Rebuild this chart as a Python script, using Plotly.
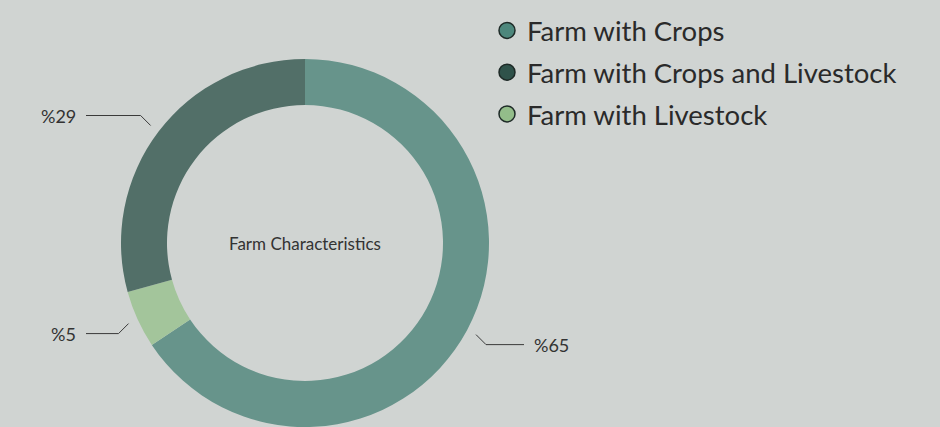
import math
import plotly.graph_objects as go

# ---- data ----
categories = ["Farm with Crops", "Farm with Livestock", "Farm with Crops and Livestock"]
values = [65, 5, 29]
slice_colors = ["#67948b", "#a3c59b", "#526f68"]
legend_order = ["Farm with Crops", "Farm with Crops and Livestock", "Farm with Livestock"]
legend_colors = {"Farm with Crops": "#4d877c", "Farm with Crops and Livestock": "#2f524a",
                 "Farm with Livestock": "#93bd8a"}
center_title = "Farm Characteristics"

W, H = 940, 427
BG = "#d0d4d2"
FONT = "Lato"

# pie geometry in pixels (from top-left)
cx, cy, R = 305, 243, 184

fig = go.Figure()

fig.add_trace(go.Pie(
    labels=categories, values=values, sort=False, direction="clockwise",
    hole=0.75, textinfo="none", showlegend=False, hoverinfo="label+value",
    marker=dict(colors=slice_colors, line=dict(width=0)),
    domain=dict(x=[(cx - R) / W, (cx + R) / W], y=[(H - cy - R) / H, (H - cy + R) / H]),
))

# leader lines & labels computed from the data
total = sum(values)
cum = 0
annotations = []
for cat, v in zip(categories, values):
    mid = (cum + v / 2) / total
    cum += v
    th = 2 * math.pi * mid
    dx, dy = math.sin(th), -math.cos(th)
    sx = 1 if dx >= 0 else -1
    sy = 1 if dy >= 0 else -1
    p1 = (cx + 194 * dx, cy + 194 * dy)
    p2 = (p1[0] + 10 * sx, p1[1] + 10 * sy)
    p3 = (cx + sx * 219, p2[1])
    fig.add_trace(go.Scatter(
        x=[p1[0], p2[0], p3[0]], y=[p1[1], p2[1], p3[1]], mode="lines",
        line=dict(color="#3a3a3a", width=1), showlegend=False, hoverinfo="skip",
    ))
    annotations.append(dict(
        x=p3[0] + sx * 8, y=p3[1], xref="x", yref="y", showarrow=False,
        text=f"%{v}", xanchor="left" if sx > 0 else "right", yanchor="middle",
        font=dict(family=FONT, size=18, color="#333333"),
    ))

annotations.append(dict(
    x=cx, y=cy, xref="x", yref="y", showarrow=False, text=center_title,
    font=dict(family=FONT, size=17, color="#333333"), xanchor="center", yanchor="middle",
))

# legend entries
for i, name in enumerate(legend_order):
    fig.add_trace(go.Scatter(
        x=[None], y=[None], mode="markers", name=name, legendgroup=f"g{i}",
        marker=dict(symbol="circle", size=16, color=legend_colors[name],
                    line=dict(color="#1e2a27", width=1.5)),
    ))

fig.update_layout(
    width=W, height=H,
    margin=dict(l=0, r=0, t=0, b=0),
    paper_bgcolor=BG, plot_bgcolor=BG,
    xaxis=dict(range=[0, W], visible=False, fixedrange=True),
    yaxis=dict(range=[H, 0], visible=False, fixedrange=True),
    showlegend=True,
    legend=dict(x=487 / W, y=1 - 6 / H, xanchor="left", yanchor="top",
                bgcolor="rgba(0,0,0,0)", traceorder="grouped", tracegroupgap=3,
                font=dict(family=FONT, size=27.5, color="#2a2a2a"), itemclick=False),
    annotations=annotations,
)

fig.write_html("out.html", config={"displayModeBar": False},
               post_script="document.body.style.margin='0';document.body.style.overflow='hidden';")
